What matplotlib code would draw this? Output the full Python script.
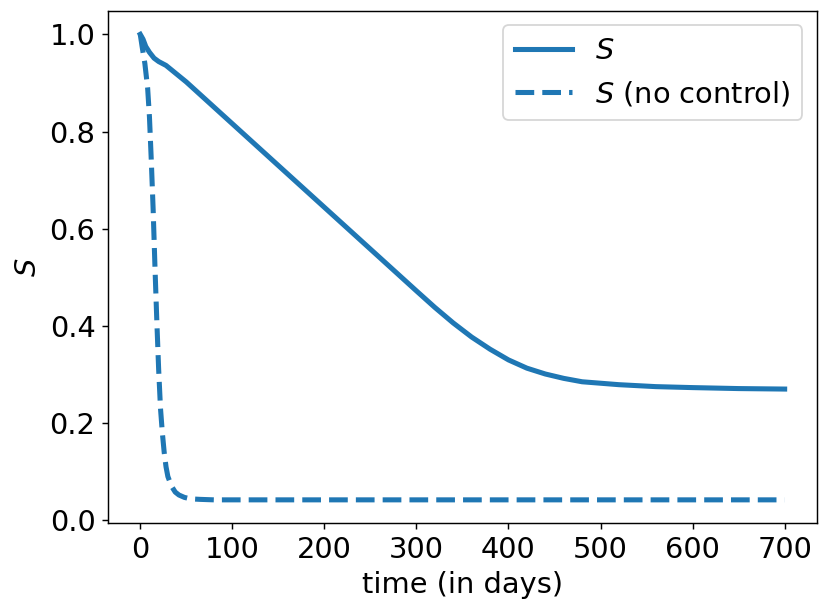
import numpy as np
import matplotlib
matplotlib.use("Agg")
import matplotlib.pyplot as plt

# controlled run
t_ctrl = [0, 3, 6, 10, 15, 20, 28, 50, 100, 150, 200, 250, 300, 320, 340,
          360, 380, 400, 420, 440, 460, 480, 520, 560, 600, 650, 700]
S_ctrl = [1.0, 0.99, 0.975, 0.963, 0.951, 0.944, 0.936, 0.902, 0.816, 0.730,
          0.644, 0.558, 0.472, 0.438, 0.406, 0.377, 0.352, 0.330, 0.313, 0.301,
          0.292, 0.285, 0.279, 0.275, 0.273, 0.271, 0.270]

# no control
t_free = [0, 2, 5, 8, 10, 12, 14, 16, 18, 20, 22, 24, 26, 28, 30, 34, 38,
          42, 48, 55, 65, 80, 100, 700]
S_free = [1.0, 0.975, 0.94, 0.89, 0.83, 0.74, 0.64, 0.52, 0.41, 0.31, 0.23,
          0.18, 0.14, 0.11, 0.09, 0.07, 0.058, 0.052, 0.047, 0.044, 0.043,
          0.042, 0.042, 0.042]

plt.rcParams['font.size'] = 16

fig = plt.figure(figsize=(831/130, 614/130), dpi=130)
ax = fig.add_axes([0.130, 0.148, 0.853, 0.834])
ax.plot(t_ctrl, S_ctrl, color='#1f77b4', linewidth=2.8, label="$S$")
ax.plot(t_free, S_free, color='#1f77b4', linewidth=2.8, linestyle='--',
        label="$S$ (no control)")
ax.legend(loc='upper right')
ax.set_xlabel("time (in days)")
ax.set_ylabel("$S$")
fig.savefig("out.png", dpi=130)
